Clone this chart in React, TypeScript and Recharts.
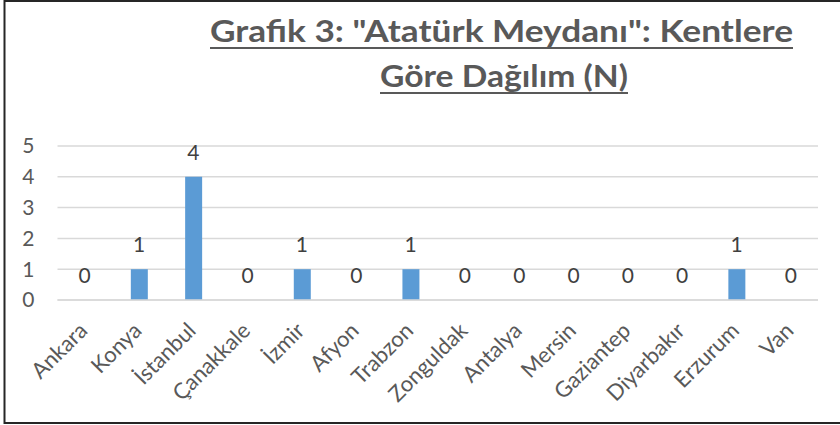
import React from 'react'
import { ComposedChart, Bar, Line, XAxis, YAxis, CartesianGrid, LabelList } from 'recharts'

const cities = [
  'Ankara', 'Konya', 'İstanbul', 'Çanakkale', 'İzmir', 'Afyon', 'Trabzon',
  'Zonguldak', 'Antalya', 'Mersin', 'Gaziantep', 'Diyarbakır', 'Erzurum', 'Van',
]
const counts = [0, 1, 4, 0, 1, 0, 1, 0, 0, 0, 0, 0, 1, 0]
const yTicks = [0, 1, 2, 3, 4, 5]
const titleLines = ['Grafik 3: "Atatürk Meydanı": Kentlere', 'Göre Dağılım (N)']

const data = cities.map((name, i) => ({ name, value: counts[i] }))

const FONT = 'Lato, "Open Sans", sans-serif'

const AngledTick = (props: any) => {
  const { x, y, payload } = props
  const bx = x + 4
  const by = y + 32
  return (
    <text
      x={bx}
      y={by}
      transform={`rotate(-45 ${bx} ${by})`}
      textAnchor="end"
      fill="#595959"
      fontSize={22}
      fontFamily={FONT}
    >
      {payload.value}
    </text>
  )
}

export default function App() {
  return (
    <div style={{ position: 'absolute', left: 0, top: 0, width: 840, height: 425, background: '#fff' }}>
      <ComposedChart
        width={840}
        height={425}
        data={data}
        margin={{ top: 146, right: 22, left: 0, bottom: 0 }}
        barSize={17}
      >
        <CartesianGrid vertical={false} stroke="#d9d9d9" strokeWidth={1.5} />
        <XAxis
          dataKey="name"
          interval={0}
          height={125}
          axisLine={{ stroke: '#d9d9d9', strokeWidth: 1.5 }}
          tickLine={false}
          tickSize={0}
          tickMargin={0}
          tick={<AngledTick />}
        />
        <YAxis
          width={57.5}
          domain={[0, 5]}
          ticks={yTicks}
          axisLine={false}
          tickLine={false}
          tickSize={0}
          tickMargin={23}
          tick={{ fill: '#595959', fontSize: 21, fontFamily: FONT }}
        />
        <Bar dataKey="value" fill="#5B9BD5" isAnimationActive={false} />
        {/* invisible line only used to place the value labels, so zeros get one too */}
        <Line
          dataKey="value"
          stroke="none"
          dot={false}
          activeDot={false}
          legendType="none"
          isAnimationActive={false}
        >
          <LabelList
            dataKey="value"
            position="top"
            offset={17}
            fill="#404040"
            fontSize={21}
            fontFamily={FONT}
          />
        </Line>
      </ComposedChart>
      <svg
        width={840}
        height={425}
        style={{ position: 'absolute', left: 0, top: 0, pointerEvents: 'none' }}
      >
        <rect x={4.5} y={1} width={840} height={422} fill="none" stroke="#262626" strokeWidth={2} />
        <text
          x={210}
          y={42}
          textLength={583}
          lengthAdjust="spacingAndGlyphs"
          fontSize={30}
          fontWeight="bold"
          fontFamily={FONT}
          fill="#595959"
        >
          {titleLines[0]}
        </text>
        <line x1={210} x2={793} y1={48} y2={48} stroke="#595959" strokeWidth={2} />
        <text
          x={380}
          y={87}
          textLength={248}
          lengthAdjust="spacingAndGlyphs"
          fontSize={30}
          fontWeight="bold"
          fontFamily={FONT}
          fill="#595959"
        >
          {titleLines[1]}
        </text>
        <line x1={380} x2={628} y1={93} y2={93} stroke="#595959" strokeWidth={2} />
      </svg>
    </div>
  )
}
